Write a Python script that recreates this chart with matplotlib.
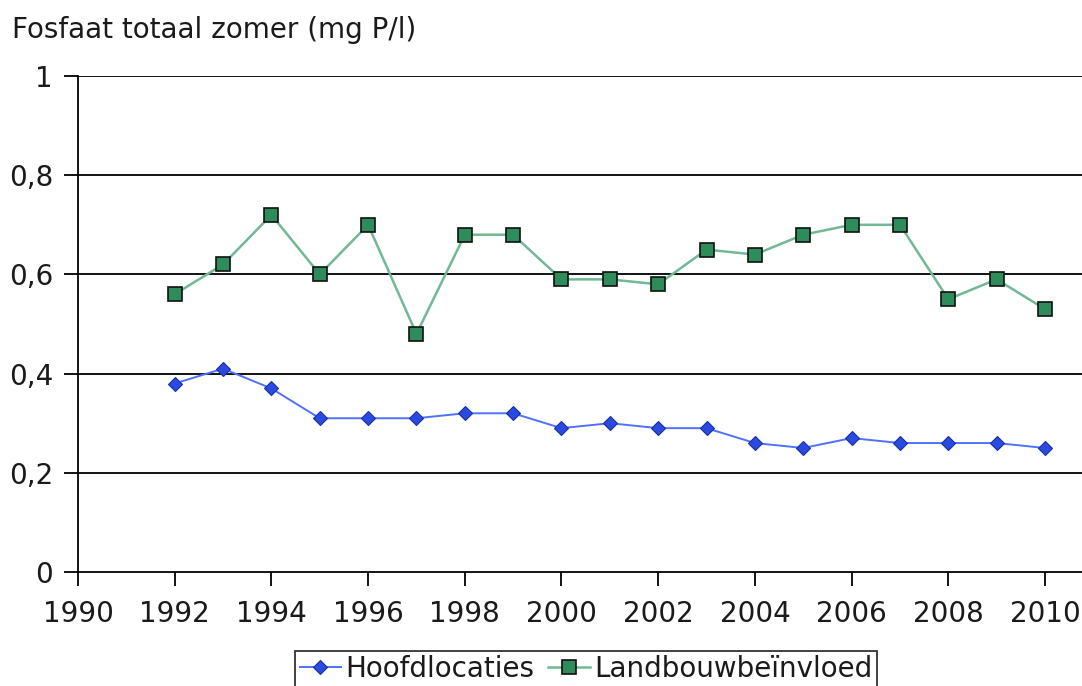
import matplotlib.pyplot as plt
import matplotlib as mpl
import numpy as np

mpl.rcParams['font.family'] = 'DejaVu Sans'

years = list(range(1992, 2011))
hoofd = [0.38, 0.41, 0.37, 0.31, 0.31, 0.31, 0.32, 0.32, 0.29, 0.30,
         0.29, 0.29, 0.26, 0.25, 0.27, 0.26, 0.26, 0.26, 0.25]
landbouw = [0.56, 0.62, 0.72, 0.60, 0.70, 0.48, 0.68, 0.68, 0.59, 0.59,
            0.58, 0.65, 0.64, 0.68, 0.70, 0.70, 0.55, 0.59, 0.53]
xticks = list(range(1990, 2011, 2))
yticks = [0, 0.2, 0.4, 0.6, 0.8, 1.0]
ylabels = ['0', '0,2', '0,4', '0,6', '0,8', '1']

W, H = 1082, 686
f = plt.figure(figsize=(W / 100, H / 100), dpi=100)
ax = f.add_axes([78 / W, 1 - 572 / H, (W - 78) / W, (572 - 76) / H])

for y in yticks[1:]:
    ax.axhline(y, color='k', lw=1.3, zorder=0)

ax.plot(years, hoofd, '-', color='#5070ff', lw=1.4, marker='D', ms=7.5,
        mfc='#2b4be0', mec='#1a2fa0', mew=0.8, label='Hoofdlocaties', zorder=3)
ax.plot(years, landbouw, '-', color='#72b894', lw=1.8, marker='s', ms=10,
        mfc='#2e8b5a', mec='#111111', mew=1.2, label='Landbouwbeïnvloed', zorder=3)

ax.set_xlim(1990, 1990 + (W - 78) / 48.35)
ax.set_ylim(0, 1)
ax.set_xticks(xticks)
ax.set_yticks(yticks)
ax.set_yticklabels(ylabels)
ax.tick_params(axis='both', labelsize=20, length=10, width=1.3, color='k',
               labelcolor='#1a1a1a', direction='out')
ax.tick_params(axis='x', pad=10)
ax.tick_params(axis='y', pad=8)
for s in ['top', 'right']:
    ax.spines[s].set_visible(False)
for s in ['left', 'bottom']:
    ax.spines[s].set_linewidth(1.3)

f.text(12 / W, 1 - 30 / H, 'Fosfaat totaal zomer (mg P/l)', fontsize=20,
       va='center', ha='left', color='#1a1a1a')

leg = f.legend(loc='upper center', bbox_to_anchor=(586 / W, 1 - 651 / H),
               ncol=2, fontsize=20, frameon=True, fancybox=False,
               handlelength=1.5, handletextpad=0.15, columnspacing=0.5,
               borderpad=0.15, edgecolor='k', borderaxespad=0)
leg.get_frame().set_linewidth(1.3)
for t in leg.get_texts():
    t.set_color('#1a1a1a')

f.savefig('out.png', dpi=100)
